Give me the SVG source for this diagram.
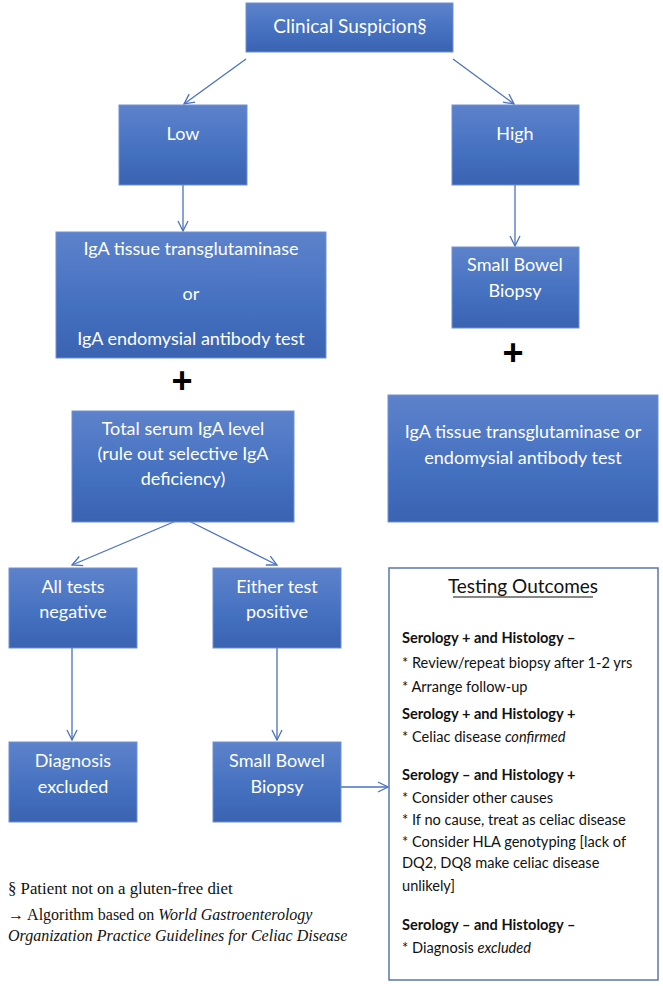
<svg xmlns="http://www.w3.org/2000/svg" width="663" height="986" viewBox="0 0 663 986">
<defs>
<linearGradient id="g" x1="0" y1="0" x2="0" y2="1">
<stop offset="0" stop-color="#5d82cb"/>
<stop offset="0.6" stop-color="#4470c0"/>
<stop offset="1" stop-color="#3a63b1"/>
</linearGradient>
<marker id="ah" viewBox="0 0 12 12" refX="11" refY="6" markerWidth="12" markerHeight="12" markerUnits="userSpaceOnUse" orient="auto">
<path d="M1,1 L11,6 L1,11" fill="none" stroke="#4a72c0" stroke-width="1.3"/>
</marker>
</defs>
<style>
.box{fill:url(#g);stroke:#6f90d2;stroke-width:1}
.bt{font-family:Lato,"Open Sans",sans-serif;font-size:18px;fill:#ffffff;text-anchor:middle}
.c{fill:none;stroke:#4a72c0;stroke-width:1.3;marker-end:url(#ah)}
.plus{font-family:"Liberation Sans",sans-serif;font-size:36px;font-weight:bold;fill:#000;text-anchor:middle}
.to{font-family:Lato,"Open Sans",sans-serif;font-size:14.6px;fill:#111}
.tb{font-weight:bold}
.fn{font-family:"Liberation Serif",serif;font-size:16px;fill:#111}
</style>
<rect width="663" height="986" fill="#ffffff"/>
<g id="connectors">
<line class="c" x1="246" y1="59" x2="184" y2="104"/>
<line class="c" x1="453" y1="59" x2="514" y2="104"/>
<line class="c" x1="183" y1="185" x2="183" y2="231"/>
<line class="c" x1="515" y1="185" x2="515" y2="246"/>
<line class="c" x1="183" y1="518" x2="72" y2="565"/>
<line class="c" x1="183" y1="518" x2="277" y2="565"/>
<line class="c" x1="72" y1="648" x2="72" y2="740"/>
<line class="c" x1="277" y1="648" x2="277" y2="740"/>
<line class="c" x1="341" y1="787" x2="388" y2="787"/>
</g>
<g id="clinical"><rect class="box" x="246" y="3" width="207" height="49"/><text class="bt" x="350" y="33" style="font-size:19px">Clinical Suspicion§</text></g>
<g id="low"><rect class="box" x="119" y="105" width="128" height="80"/><text class="bt" x="183" y="140">Low</text></g>
<g id="high"><rect class="box" x="452" y="105" width="127" height="80"/><text class="bt" x="515" y="140">High</text></g>
<g id="iga-left"><rect class="box" x="56" y="232" width="270" height="126"/>
<text class="bt" x="191" y="255">IgA tissue transglutaminase</text>
<text class="bt" x="191" y="300">or</text>
<text class="bt" x="191" y="345">IgA endomysial antibody test</text></g>
<g id="plus-left"><text class="plus" x="182" y="393">+</text></g>
<g id="total-iga"><rect class="box" x="72" y="411" width="222" height="111"/>
<text class="bt" x="183" y="435">Total serum IgA level</text>
<text class="bt" x="183" y="460">(rule out selective IgA</text>
<text class="bt" x="183" y="485">deficiency)</text></g>
<g id="sbb-high"><rect class="box" x="452" y="247" width="127" height="81"/>
<text class="bt" x="515" y="271">Small Bowel</text>
<text class="bt" x="515" y="297">Biopsy</text></g>
<g id="plus-right"><text class="plus" x="513" y="365">+</text></g>
<g id="iga-right"><rect class="box" x="388" y="395" width="270" height="127"/>
<text class="bt" x="523" y="438">IgA tissue transglutaminase or</text>
<text class="bt" x="523" y="464">endomysial antibody test</text></g>
<g id="neg"><rect class="box" x="9" y="568" width="128" height="80"/>
<text class="bt" x="73" y="593">All tests</text>
<text class="bt" x="73" y="618">negative</text></g>
<g id="pos"><rect class="box" x="213" y="568" width="128" height="80"/>
<text class="bt" x="277" y="593">Either test</text>
<text class="bt" x="277" y="618">positive</text></g>
<g id="excluded"><rect class="box" x="9" y="742" width="128" height="80"/>
<text class="bt" x="73" y="767">Diagnosis</text>
<text class="bt" x="73" y="793">excluded</text></g>
<g id="sbb-low"><rect class="box" x="213" y="742" width="128" height="80"/>
<text class="bt" x="277" y="767">Small Bowel</text>
<text class="bt" x="277" y="793">Biopsy</text></g>
<g id="outcomes">
<rect x="389" y="568" width="269" height="412" fill="#ffffff" stroke="#5a77a8" stroke-width="1.5"/>
<text class="to" x="523" y="593" text-anchor="middle" style="font-size:19px">Testing Outcomes</text>
<line x1="453" y1="597" x2="593" y2="597" stroke="#111" stroke-width="1"/>
<text class="to tb" x="402" y="643">Serology + and Histology –</text>
<text class="to" x="402" y="668">* Review/repeat biopsy after 1-2 yrs</text>
<text class="to" x="402" y="692">* Arrange follow-up</text>
<text class="to tb" x="402" y="719">Serology + and Histology +</text>
<text class="to" x="402" y="742">* Celiac disease <tspan font-style="italic">confirmed</tspan></text>
<text class="to tb" x="402" y="780">Serology – and Histology +</text>
<text class="to" x="402" y="803">* Consider other causes</text>
<text class="to" x="402" y="825">* If no cause, treat as celiac disease</text>
<text class="to" x="402" y="847">* Consider HLA genotyping [lack of</text>
<text class="to" x="402" y="868">DQ2, DQ8 make celiac disease</text>
<text class="to" x="402" y="891">unlikely]</text>
<text class="to tb" x="402" y="930">Serology – and Histology –</text>
<text class="to" x="402" y="953">* Diagnosis <tspan font-style="italic">excluded</tspan></text>
</g>
<g id="footnotes">
<text class="fn" x="8" y="894" style="font-size:16.8px">§ Patient not on a gluten-free diet</text>
<text class="fn" x="8" y="920">→ Algorithm based on <tspan font-style="italic">World Gastroenterology</tspan></text>
<text class="fn" x="8" y="941" font-style="italic">Organization Practice Guidelines for Celiac Disease</text>
</g>
</svg>
